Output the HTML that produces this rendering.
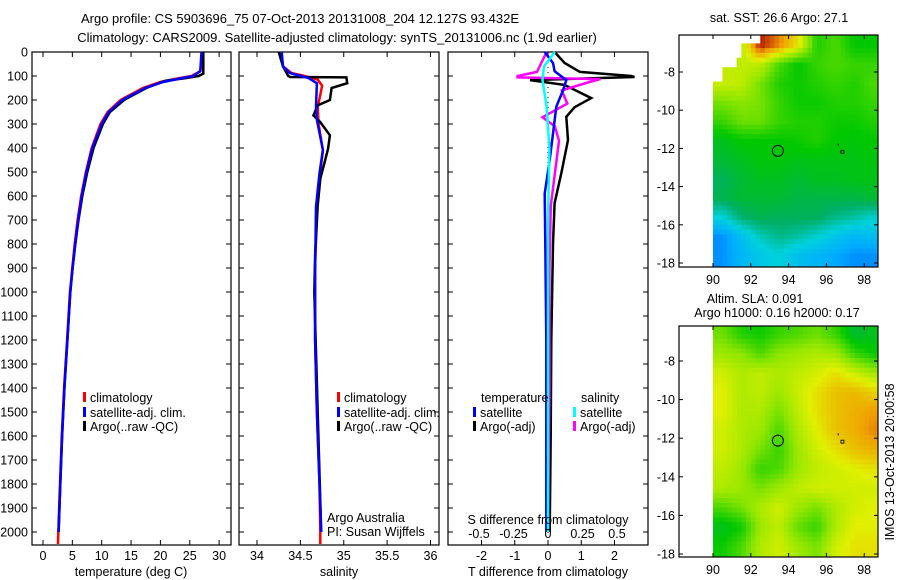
<!DOCTYPE html>
<html><head><meta charset="utf-8">
<style>
html,body{margin:0;padding:0;background:#fff;}
svg{display:block;font-family:"Liberation Sans",sans-serif;}
text{fill:#000;font-size:12.5px;}
</style></head>
<body>
<svg id="fig" width="900" height="580" viewBox="0 0 900 580" xmlns="http://www.w3.org/2000/svg">
<text x="300" y="23" text-anchor="middle" style="font-size:13px">Argo profile: CS 5903696_75 07-Oct-2013 20131008_204 12.127S 93.432E</text>
<text x="337" y="42" text-anchor="middle" style="font-size:13px">Climatology: CARS2009. Satellite-adjusted climatology: synTS_20131006.nc (1.9d earlier)</text>
<g id="p1"></g>
<g id="p2"></g>
<g id="p3"></g>
<g id="m1"></g>
<g id="m2"></g>
<text transform="translate(894,462) rotate(-90)" text-anchor="middle">IMOS 13-Oct-2013 20:00:58</text>
</svg>
<script>
// ---------- data ----------
const tempClimDepth = [0,80,100,110,125,150,200,250,300,400,500,600,700,800,900,1000,1200,1400,1600,1800,2000,2050];
const tempClim      = [27.1,26.8,25.3,23,20,17,13.2,11,9.8,8.3,7.3,6.5,5.9,5.4,5.0,4.6,4.1,3.6,3.2,2.9,2.6,2.55];
const tempSatDepth  = [0,80,100,110,125,150,200,250,300,400,500,600,700,800,900,1000,1200,1400,1600,1800,2000];
const tempSat       = [27.0,26.8,25.6,23.5,20.5,17.4,13.5,11.2,10.0,8.4,7.4,6.6,6.0,5.5,5.05,4.65,4.15,3.65,3.25,2.95,2.65];
const tempArgoDepth = [0,90,100,110,120,150,200,250,300,400,500,600,700,800,900,1000,1200,1400,1600,1800,2000];
const tempArgo      = [27.3,27.3,26.5,24,20.8,17.6,13.8,11.4,10.2,8.6,7.55,6.7,6.05,5.5,5.05,4.65,4.15,3.65,3.25,2.95,2.65];

const salClimDepth = [0,60,88,100,115,140,160,230,300,410,500,650,900,1200,1500,1800,2000,2050];
const salClim      = [34.28,34.3,34.4,34.55,34.7,34.75,34.74,34.7,34.71,34.76,34.73,34.69,34.67,34.67,34.69,34.72,34.73,34.73];
const salSatDepth  = [0,61,88,108,130,228,283,408,505,645,920,1200,1500,1800,2000];
const salSat       = [34.285,34.3,34.38,34.59,34.69,34.68,34.69,34.76,34.72,34.68,34.67,34.67,34.69,34.72,34.74];
const salArgoDepth = [0,60,100,104,106,130,150,200,222,264,292,347,402,458,528,640,850,1000,1500,2000];
const salArgo      = [34.25,34.3,34.36,34.38,35.03,35.04,34.86,34.84,34.70,34.65,34.73,34.84,34.82,34.78,34.73,34.70,34.67,34.66,34.70,34.74];

const dTSatDepth  = [0,46,80,117,160,228,340,450,590,800,1200,1600,2000];
const dTSat       = [-0.1,0.15,0.2,0.55,0.45,0.25,0.15,0.05,-0.1,-0.08,-0.05,-0.05,-0.05];
const dTArgoDepth = [0,46,83,100,104,117,137,192,230,270,367,505,630,800,1200,1600,2000];
const dTArgo      = [0.2,0.5,0.96,2.5,2.6,-0.54,0.5,1.3,0.8,0.55,0.6,0.4,0.2,0.15,0.1,0.08,0.05];
const dSSatDepth  = [0,60,117,228,400,700,1200,2000];
const dSSat       = [0.05,-0.03,-0.04,-0.01,0.01,0.0,0.0,0.0];
const dSArgoDepth = [0,83,100,106,113,125,160,215,272,310,370,505,640,900,1400,2000];
const dSArgo      = [-0.01,-0.08,-0.22,-0.22,0.38,0.3,0.1,0.14,-0.04,0.05,0.08,0.05,0.02,0.01,0.01,0.0];

const depthTicks = [0,100,200,300,400,500,600,700,800,900,1000,1100,1200,1300,1400,1500,1600,1700,1800,1900,2000];
const tempTicks = [0,5,10,15,20,25,30];
const salTicks = [34,34.5,35,35.5,36];
const salTickLabels = ["34","34.5","35","35.5","36"];
const dTTicks = [-2,-1,0,1,2];
const dSTicks = [-0.5,-0.25,0,0.25,0.5];

const mapLons = [90,92,94,96,98];
const sstLats = [-8,-10,-12,-14,-16,-18];
// SST colour level grid (rows lat -6.6 .. -17.6, cols lon 90.5 .. 98.5)
const sstGrid = [
 [0.7,0.72,0.98,0.9,0.8,0.58,0.62,0.55,0.55],
 [0.74,0.74,0.74,0.62,0.55,0.6,0.62,0.6,0.6],
 [0.75,0.74,0.66,0.58,0.56,0.58,0.6,0.58,0.62],
 [0.66,0.68,0.66,0.6,0.56,0.56,0.58,0.58,0.6],
 [0.6,0.65,0.65,0.6,0.58,0.58,0.56,0.56,0.58],
 [0.52,0.55,0.55,0.55,0.56,0.58,0.55,0.54,0.55],
 [0.5,0.52,0.54,0.54,0.53,0.53,0.53,0.53,0.54],
 [0.46,0.5,0.52,0.52,0.5,0.52,0.52,0.53,0.53],
 [0.47,0.5,0.5,0.5,0.48,0.48,0.48,0.48,0.5],
 [0.35,0.44,0.47,0.46,0.46,0.46,0.42,0.4,0.36],
 [0.22,0.3,0.38,0.42,0.4,0.36,0.32,0.28,0.3],
 [0.22,0.28,0.32,0.35,0.3,0.28,0.25,0.22,0.22]];
// SST coverage: western data edge by latitude
const sstEdgeLat = [-6.5,-7.2,-7.8,-8.5,-9.0];
const sstEdgeLon = [92.6,91.6,91.2,90.5,90.0];
const slaGrid = [
 [0.65,0.58,0.56,0.6,0.62,0.65,0.6,0.5,0.52],
 [0.7,0.68,0.62,0.68,0.7,0.72,0.7,0.6,0.55],
 [0.76,0.72,0.74,0.72,0.74,0.76,0.8,0.75,0.7],
 [0.78,0.72,0.74,0.7,0.75,0.8,0.84,0.85,0.82],
 [0.78,0.72,0.72,0.66,0.74,0.8,0.84,0.86,0.88],
 [0.76,0.72,0.7,0.62,0.72,0.78,0.84,0.86,0.9],
 [0.76,0.72,0.66,0.6,0.7,0.76,0.8,0.84,0.86],
 [0.74,0.7,0.6,0.62,0.7,0.74,0.76,0.78,0.8],
 [0.72,0.7,0.66,0.7,0.74,0.76,0.76,0.76,0.76],
 [0.62,0.66,0.72,0.76,0.7,0.66,0.72,0.76,0.78],
 [0.52,0.56,0.7,0.74,0.64,0.6,0.72,0.78,0.78],
 [0.56,0.62,0.72,0.76,0.7,0.66,0.76,0.8,0.8]];
const floatLon = 93.432, floatLat = -12.127;

// ---------- helpers ----------
const NS = "http://www.w3.org/2000/svg";
function mk(parent, tag, attrs){ const e=document.createElementNS(NS,tag); for(const k in attrs) e.setAttribute(k,attrs[k]); parent.appendChild(e); return e; }
const yD = d => 52 + d*0.24;
const xT = t => 43 + t*5.87;
const xS = s => 257 + (s-34)*86.75;
const xDT = t => 548 + t*33.25;
const xDS = s => 548 + s*138;

function panel(g, x0, x1, y0, y1, ytickLabels){
  const r = mk(g,'rect',{x:x0,y:y0,width:x1-x0,height:y1-y0,fill:'none',stroke:'#000','stroke-width':1.2});
   
  depthTicks.forEach(d=>{
    const y=yD(d);
    mk(g,'line',{x1:x0,x2:x0+5,y1:y,y2:y,stroke:'#000'});
    mk(g,'line',{x1:x1-5,x2:x1,y1:y,y2:y,stroke:'#000'});
    if(ytickLabels){
      const t=mk(g,'text',{x:x0-4,y:y+4.5,'text-anchor':'end'}); t.textContent=d;
       
    }
  });
}
function xticks(g, vals, labels, fx, y0, y1, ly){
  vals.forEach((v,i)=>{
    const x=fx(v);
    mk(g,'line',{x1:x,x2:x,y1:y1,y2:y1-5,stroke:'#000'});
    mk(g,'line',{x1:x,x2:x,y1:y0,y2:y0+5,stroke:'#000'});
    const t=mk(g,'text',{x:x,y:ly,'text-anchor':'middle'}); t.textContent=labels[i];
     
  });
}
function line(g, xs, ds, fx, color, w, name){
  const pts = xs.map((v,i)=>fx(v).toFixed(1)+','+yD(ds[i]).toFixed(1)).join(' ');
  const p=mk(g,'polyline',{points:pts,fill:'none',stroke:color,'stroke-width':w,'stroke-linejoin':'miter'});
   
}
function label(g,x,y,str,name,anchor){
  const t=mk(g,'text',{x:x,y:y,'text-anchor':anchor||'start'}); t.textContent=str;
    return t;
}
function legend(g,x,y,color,str,name){
  const r=mk(g,'rect',{x:x,y:y-5,width:3,height:10,fill:color});
   
  label(g,x+7,y+5,str,name);
}

// ---------- panel 1 ----------
const p1=document.getElementById('p1');
panel(p1,32,231,52,545,true);
xticks(p1,tempTicks,tempTicks.map(String),xT,52,545,560);
line(p1,tempClim,tempClimDepth,xT,'#f00',2.5,'temperature-climatology-line');
line(p1,tempArgo,tempArgoDepth,xT,'#000',2.5,'temperature-argo-line');
line(p1,tempSat,tempSatDepth,xT,'#00f',2.5,'temperature-satellite-line');
label(p1,131,576,'temperature (deg C)','x-axis-title','middle');
legend(p1,83,397,'#f00','climatology','legend-climatology');
legend(p1,83,412,'#00f','satellite-adj. clim.','legend-satellite');
legend(p1,83,426,'#000','Argo(..raw -QC)','legend-argo');

// ---------- panel 2 ----------
const p2=document.getElementById('p2');
panel(p2,239,439,52,545,false);
xticks(p2,salTicks,salTickLabels,xS,52,545,560);
line(p2,salClim,salClimDepth,xS,'#f00',2.5,'salinity-climatology-line');
line(p2,salArgo,salArgoDepth,xS,'#000',2.5,'salinity-argo-line');
line(p2,salSat,salSatDepth,xS,'#00f',2.5,'salinity-satellite-line');
label(p2,339,576,'salinity','x-axis-title','middle');
legend(p2,337,397,'#f00','climatology','legend-climatology');
legend(p2,337,412,'#00f','satellite-adj. clim.','legend-satellite');
legend(p2,337,426,'#000','Argo(..raw -QC)','legend-argo');
label(p2,327,522,'Argo Australia','credit-line-1');
label(p2,327,536,'PI: Susan Wijffels','credit-line-2');

// ---------- panel 3 ----------
const p3=document.getElementById('p3');
panel(p3,448,648,52,545,false);
xticks(p3,dTTicks,dTTicks.map(String),xDT,52,545,560);
mk(p3,'line',{x1:548,x2:548,y1:52,y2:545,stroke:'#000','stroke-dasharray':'1,4'});
line(p3,dTArgo,dTArgoDepth,xDT,'#000',2.5,'t-diff-argo-line');
line(p3,dSArgo,dSArgoDepth,xDS,'#f0f',2.5,'s-diff-argo-line');
line(p3,dTSat,dTSatDepth,xDT,'#00f',2.5,'t-diff-satellite-line');
line(p3,dSSat,dSSatDepth,xDS,'#0ff',2.5,'s-diff-satellite-line');
label(p3,548,576,'T difference from climatology','x-axis-title','middle');
label(p3,548,524,'S difference from climatology','s-axis-title','middle');
dSTicks.forEach(v=>{ label(p3,xDS(v),538,String(v),'s-tick-label','middle'); });
label(p3,481,402,'temperature','legend-temperature-header');
label(p3,581,402,'salinity','legend-salinity-header');
legend(p3,473,412,'#00f','satellite','legend-t-satellite');
legend(p3,473,426,'#000','Argo(-adj)','legend-t-argo');
legend(p3,573,412,'#0ff','satellite','legend-s-satellite');
legend(p3,573,426,'#f0f','Argo(-adj)','legend-s-argo');

// ---------- maps ----------
const stops=[[0,[0,0,140]],[0.12,[0,60,255]],[0.25,[0,170,255]],[0.35,[0,210,220]],[0.45,[0,175,100]],[0.55,[0,200,0]],[0.68,[140,230,0]],[0.78,[225,240,0]],[0.88,[240,160,0]],[1,[170,0,0]]];
function cmap(v){
  for(let i=1;i<stops.length;i++){
    if(v<=stops[i][0]){const a=stops[i-1],b=stops[i],f=(v-a[0])/(b[0]-a[0]);
      return 'rgb('+a[1].map((c,j)=>Math.round(c+(b[1][j]-c)*f)).join(',')+')';}
  }
  return 'rgb(170,0,0)';
}
function sample(grid,r,c){
  const R=grid.length,C=grid[0].length;
  r=Math.max(0,Math.min(R-1,r)); c=Math.max(0,Math.min(C-1,c));
  const r0=Math.floor(r),c0=Math.floor(c),r1=Math.min(R-1,r0+1),c1=Math.min(C-1,c0+1),fr=r-r0,fc=c-c0;
  return grid[r0][c0]*(1-fr)*(1-fc)+grid[r0][c1]*(1-fr)*fc+grid[r1][c0]*fr*(1-fc)+grid[r1][c1]*fr*fc;
}
function edgeLon(lat, edgeLats, edgeLons){
  if(!edgeLats) return 90;
  for(let i=0;i<edgeLats.length;i++){ if(lat>=edgeLats[i]) return edgeLons[i]; }
  return 90;
}
function map(g, top, bottom, yLat, grid, step, topLatData, gridName, titles, edgeLats, edgeLons){
  const xL = lon => 713 + (lon-90)*18.9;
  const cg=mk(g,'g',{});  
  for(let lat=topLatData; lat>-18.2; lat-=step){
    const minLon = edgeLon(lat-step/2, edgeLats, edgeLons);
    for(let lon=90; lon<98.7; lon+=step){
      if(lon+step/2 < minLon) continue;
      const r=(-6.6-(lat-step/2)), c=(lon+step/2-90.5);
      const v=sample(grid,r,c);
      const y0=Math.max(top,yLat(lat)), y1=Math.min(bottom,yLat(lat-step)), x0=xL(lon), x1=Math.min(878,xL(lon+step));
      mk(cg,'rect',{x:x0.toFixed(2),y:y0.toFixed(2),width:(x1-x0+0.4).toFixed(2),height:(y1-y0+0.4).toFixed(2),fill:cmap(v)});
    }
  }
  const fr=mk(g,'rect',{x:679,y:top,width:199,height:bottom-top,fill:'none',stroke:'#000','stroke-width':1.2});
   
  mapLons.forEach(lon=>{const x=xL(lon);
    mk(g,'line',{x1:x,x2:x,y1:bottom,y2:bottom-4,stroke:'#000'});
    mk(g,'line',{x1:x,x2:x,y1:top,y2:top+4,stroke:'#000'});
    label(g,x,bottom+17,String(lon),'lon-tick-label','middle');});
  sstLats.forEach(lat=>{const y=yLat(lat);
    mk(g,'line',{x1:679,x2:683,y1:y,y2:y,stroke:'#000'});
    mk(g,'line',{x1:874,x2:878,y1:y,y2:y,stroke:'#000'});
    label(g,675,y+4.5,String(lat),'lat-tick-label','end');});
  const c=mk(g,'circle',{cx:xL(floatLon),cy:yLat(floatLat),r:5.5,fill:'none',stroke:'#000','stroke-width':1});
   
  mk(g,'rect',{x:xL(96.85)-1.5,y:yLat(-12.18)-1.5,width:3,height:3,fill:'none',stroke:'#000','stroke-width':0.8});
  mk(g,'rect',{x:xL(96.6),y:yLat(-11.8)-1,width:1,height:2,fill:'#000'});
  titles.forEach(t=>label(g,t[0],t[1],t[2],t[3],'middle'));
}
const m1=document.getElementById('m1');
map(m1,35,267,lat=>72+(-8-lat)*19.1,sstGrid,0.25,-6.0,'sst-heatmap',[[779,22,'sat. SST: 26.6 Argo: 27.1','sst-map-title']],sstEdgeLat,sstEdgeLon);
const m2=document.getElementById('m2');
map(m2,326,557,lat=>361+(-8-lat)*19.3,slaGrid,0.25,-6.1,'sla-heatmap',[[755,303,'Altim. SLA: 0.091','sla-map-title'],[777,317,'Argo h1000: 0.16 h2000: 0.17','sla-map-subtitle']]);
</script>
</body></html>
